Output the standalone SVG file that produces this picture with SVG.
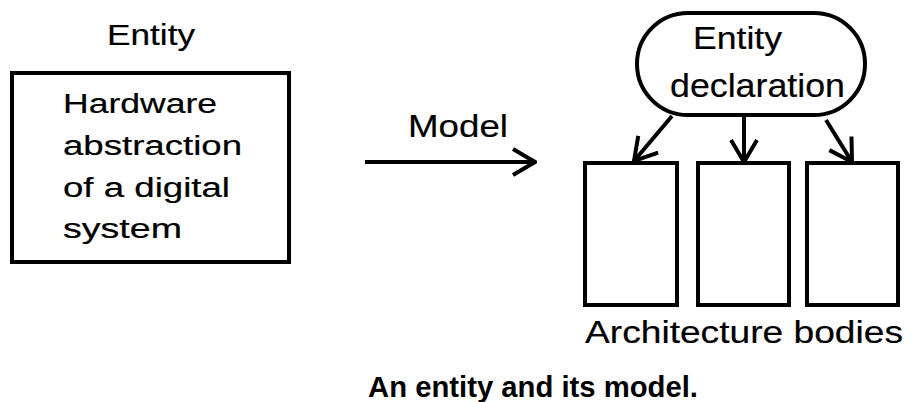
<svg xmlns="http://www.w3.org/2000/svg" width="915" height="402" viewBox="0 0 915 402">
<defs>
<style>
.t{font-family:"Liberation Sans",Arial,sans-serif;fill:#000;stroke:#000;stroke-width:0.2}
.cap{font-family:"Liberation Sans",Arial,sans-serif;fill:#000;font-weight:bold}
.b{fill:none;stroke:#000;stroke-width:4}
.c{fill:none;stroke:#000;stroke-width:4}
</style>
<marker id="chev" viewBox="0 0 26 30" refX="24" refY="15" markerWidth="26" markerHeight="30" markerUnits="userSpaceOnUse" orient="auto">
<path d="M2,2 L24,15 L2,28" fill="none" stroke="#000" stroke-width="4" stroke-linejoin="miter"/>
</marker>
</defs>
<rect width="915" height="402" fill="#fff"/>
<g id="entity">
<text class="t" x="107" y="45" font-size="30" textLength="88" lengthAdjust="spacingAndGlyphs">Entity</text>
<rect class="b" x="12" y="73" width="277" height="189"/>
<text class="t" x="63" y="113" font-size="27" textLength="154" lengthAdjust="spacingAndGlyphs">Hardware</text>
<text class="t" x="63" y="155" font-size="27" textLength="179" lengthAdjust="spacingAndGlyphs">abstraction</text>
<text class="t" x="63" y="197" font-size="27" textLength="167" lengthAdjust="spacingAndGlyphs">of a digital</text>
<text class="t" x="63" y="238" font-size="27" textLength="119" lengthAdjust="spacingAndGlyphs">system</text>
</g>
<g id="model-label">
<text class="t" x="408" y="137" font-size="32" textLength="100" lengthAdjust="spacingAndGlyphs">Model</text>
</g>
<g id="entity-declaration">
<rect class="b" x="637" y="13" width="228" height="102" rx="51" ry="51"/>
<text class="t" x="693" y="49" font-size="32" textLength="89" lengthAdjust="spacingAndGlyphs">Entity</text>
<text class="t" x="670" y="97" font-size="33" textLength="175" lengthAdjust="spacingAndGlyphs">declaration</text>
</g>
<g id="arch1"><rect class="b" x="585" y="163" width="92" height="142"/></g>
<g id="arch2"><rect class="b" x="698" y="163" width="91" height="142"/></g>
<g id="arch3"><rect class="b" x="807" y="163" width="91" height="142"/></g>
<g id="arch-label">
<text class="t" x="585" y="343" font-size="32" textLength="318" lengthAdjust="spacingAndGlyphs">Architecture bodies</text>
</g>
<g id="connectors">
<line class="c" x1="365" y1="162" x2="535" y2="162" marker-end="url(#chev)"/>
<line class="c" x1="672" y1="116" x2="634" y2="161" marker-end="url(#chev)"/>
<line class="c" x1="744" y1="116" x2="744" y2="162" marker-end="url(#chev)"/>
<line class="c" x1="826" y1="120" x2="852" y2="162" marker-end="url(#chev)"/>
</g>
<g id="caption">
<text class="cap" x="368" y="397" font-size="29" textLength="330" lengthAdjust="spacingAndGlyphs">An entity and its model.</text>
</g>
</svg>
